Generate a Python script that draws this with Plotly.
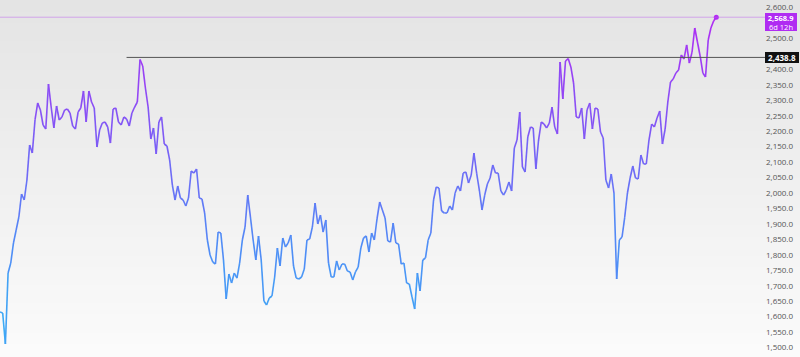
import plotly.graph_objects as go

# Weekly close values
values = [
    1614.9, 1611.7, 1511.3, 1741.1, 1773.5, 1838.2, 1880.3, 1922.3, 1996.8, 1977.4,
    2042.1, 2155.4, 2129.5, 2236.3, 2291.3, 2268.6, 2220.1, 2207.1, 2352.8, 2278.3,
    2210.4, 2281.6, 2236.3, 2246.0, 2268.6, 2271.9, 2258.9, 2216.8, 2207.1, 2262.1,
    2275.1, 2330.1, 2229.8, 2330.1, 2294.5, 2275.1, 2148.9, 2203.9, 2226.5, 2229.8,
    2213.6, 2161.8, 2271.9, 2275.1, 2229.8, 2220.1, 2246.0, 2239.5, 2216.8, 2258.9,
    2278.3, 2294.5, 2432.0, 2411.0, 2339.8, 2278.3, 2174.8, 2210.4, 2126.2, 2229.8,
    2246.0, 2158.6, 2152.1, 2106.8, 2025.9, 1977.4, 2022.7, 1983.8, 1977.4, 1957.9,
    1983.8, 2071.2, 2064.7, 2077.7, 1983.8, 1980.6, 1935.3, 1847.9, 1799.4, 1776.7,
    1770.2, 1873.8, 1870.6, 1783.2, 1657.0, 1737.9, 1708.8, 1741.1, 1724.9, 1773.5,
    1847.9, 1890.0, 1993.5, 1922.3, 1847.9, 1783.2, 1860.9, 1783.2, 1650.5, 1637.6,
    1660.2, 1666.7, 1728.2, 1822.0, 1763.8, 1854.4, 1825.3, 1838.2, 1864.1, 1763.8,
    1724.9, 1721.7, 1728.2, 1754.1, 1847.9, 1851.2, 1890.0, 1967.7, 1899.7, 1928.8,
    1873.8, 1912.6, 1773.5, 1728.2, 1728.2, 1780.0, 1750.8, 1770.2, 1770.2, 1747.6,
    1744.4, 1718.5, 1744.4, 1760.5, 1822.0, 1854.4, 1860.9, 1809.1, 1870.6, 1847.9,
    1915.9, 1970.9, 1945.0, 1919.1, 1844.7, 1841.4, 1902.9, 1838.2, 1835.0, 1770.2,
    1773.5, 1708.8, 1705.5, 1663.4, 1624.6, 1741.1, 1682.9, 1783.2, 1789.7, 1847.9,
    1870.6, 1977.4, 2019.4, 2016.2, 1941.8, 1935.3, 1935.3, 1957.9, 1945.0, 2000.0,
    2022.7, 2006.5, 2064.7, 2068.0, 2032.4, 2058.3, 2129.5, 2064.7, 2009.7, 1945.0,
    1993.5, 2029.1, 2048.6, 2090.6, 2064.7, 2064.7, 2006.5, 1993.5, 2009.7, 2035.6,
    2006.5, 2145.6, 2171.5, 2262.1, 2084.2, 2068.0, 2181.2, 2213.6, 2210.4, 2077.7,
    2171.5, 2229.8, 2223.3, 2210.4, 2226.5, 2278.3, 2213.6, 2190.9, 2424.0, 2304.2,
    2427.2, 2435.0, 2407.8, 2356.0, 2246.0, 2242.7, 2275.1, 2174.8, 2268.6, 2291.3,
    2207.1, 2275.1, 2271.9, 2197.4, 2178.0, 2042.1, 2016.2, 2061.5, 2000.0, 1721.7,
    1847.9, 1857.6, 1922.3, 2000.0, 2048.6, 2087.4, 2048.6, 2045.3, 2123.0, 2093.9,
    2093.9, 2171.5, 2223.3, 2213.6, 2242.7, 2265.4, 2158.6, 2207.1, 2294.5, 2359.2,
    2368.9, 2388.4, 2398.1, 2446.6, 2433.7, 2479.0, 2420.7, 2456.3, 2534.0, 2488.7,
    2443.4, 2388.4, 2375.4, 2495.2, 2534.0, 2556.6, 2568.9,
]
weeks = list(range(len(values)))

resistance_level = 2438.8
resistance_label = "2,438.8"
countdown = "6d 12h"
# 2,550.0 is hidden behind the last-price box in the reference
ytick_vals = [1500 + 50 * i for i in range(23) if 1500 + 50 * i != 2550]

# ---- styling ----
Y_RANGE = [1469.3, 2624.6]
X_MAX = len(values) * 1.064
V_LO, V_HI = 1510.0, 2570.0
stops = [(0.0, (56, 176, 245)), (0.3, (80, 140, 246)), (0.55, (112, 104, 246)),
         (0.75, (140, 76, 245)), (1.0, (178, 42, 244))]


def color_at(v):
    t = min(1.0, max(0.0, (v - V_LO) / (V_HI - V_LO)))
    for (t0, c0), (t1, c1) in zip(stops[:-1], stops[1:]):
        if t <= t1:
            f = (t - t0) / (t1 - t0) if t1 > t0 else 0
            c = [round(a + (b - a) * f) for a, b in zip(c0, c1)]
            return "rgb(%d,%d,%d)" % tuple(c)
    return "rgb(%d,%d,%d)" % stops[-1][1]


NBINS = 48
bins = {}
for i in range(len(values) - 1):
    avg = (values[i] + values[i + 1]) / 2
    b = int(min(NBINS - 1, max(0, (avg - V_LO) / (V_HI - V_LO) * NBINS)))
    bx, by = bins.setdefault(b, ([], []))
    bx += [weeks[i], weeks[i + 1], None]
    by += [values[i], values[i + 1], None]

fig = go.Figure()

# background gradient
NB = 60
for k in range(NB):
    t = k / (NB - 1)
    g = round(228 + (251 - 228) * t)
    fig.add_shape(type="rect", xref="paper", yref="paper",
                  x0=0, x1=1.05, y0=1 - (k + 1) / NB, y1=1 - k / NB + 0.002,
                  fillcolor="rgb(%d,%d,%d)" % (g, g, g), line_width=0, layer="below")

for b in sorted(bins):
    bx, by = bins[b]
    mid = V_LO + (b + 0.5) / NBINS * (V_HI - V_LO)
    fig.add_trace(go.Scatter(x=bx, y=by, mode="lines",
                             line=dict(color=color_at(mid), width=1.6),
                             hoverinfo="skip", showlegend=False))

fig.add_trace(go.Scatter(x=[weeks[-1]], y=[values[-1]], mode="markers",
                         marker=dict(color=color_at(values[-1]), size=5),
                         hoverinfo="skip", showlegend=False))

# horizontal levels
fig.add_shape(type="line", xref="x", yref="y", x0=47, x1=X_MAX,
              y0=resistance_level, y1=resistance_level,
              line=dict(color="#555555", width=1))
fig.add_shape(type="line", xref="paper", yref="y", x0=0, x1=1,
              y0=values[-1], y1=values[-1],
              line=dict(color="rgba(190,100,240,0.5)", width=1))

BOX = "#b02cf2"
lab_font = dict(color="white", size=7.5, family="Open Sans")
fig.add_annotation(xref="paper", yref="y", x=1.0, y=values[-1], xanchor="left",
                   yanchor="middle", text="<b>%s</b>" % "{:,.1f}".format(values[-1]),
                   showarrow=False, bgcolor=BOX, font=lab_font,
                   borderpad=0, borderwidth=0, width=32, height=9, yshift=0)
fig.add_annotation(xref="paper", yref="y", x=1.0, y=values[-1], xanchor="left",
                   yanchor="middle", text=countdown,
                   showarrow=False, bgcolor=BOX, font=lab_font,
                   borderpad=0, borderwidth=0, width=32, height=9, yshift=-9)
fig.add_annotation(xref="paper", yref="y", x=1.0, y=resistance_level, xanchor="left",
                   yanchor="middle", text="<b>%s</b>" % resistance_label,
                   showarrow=False, bgcolor="#111111", font=dict(color="white", size=8, family="Open Sans"),
                   borderpad=1, borderwidth=0, width=32, height=9)

fig.update_layout(
    width=800, height=357,
    margin=dict(l=0, r=35, t=0, b=0),
    paper_bgcolor="#eeeeee", plot_bgcolor="rgba(0,0,0,0)",
    xaxis=dict(visible=False, range=[0, X_MAX]),
    yaxis=dict(side="right", range=Y_RANGE, tickvals=ytick_vals, tickformat=",.1f",
               showgrid=False, zeroline=False, showline=False, ticks="",
               tickfont=dict(size=8, color="#555555", family="Open Sans")),
)

fig.write_html("out.html")
